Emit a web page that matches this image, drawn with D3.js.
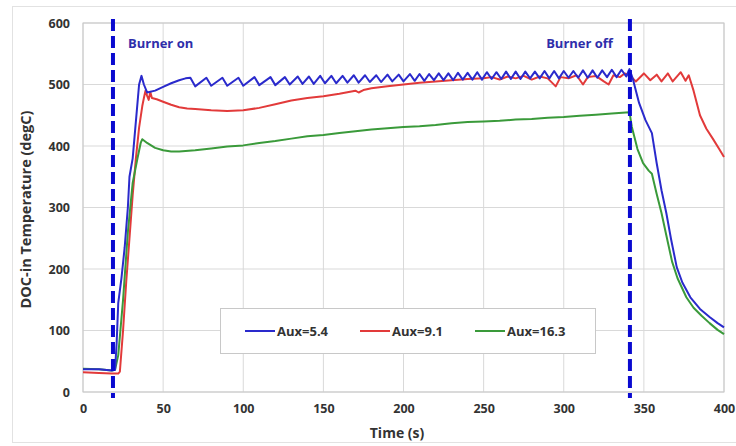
<!DOCTYPE html>
<html><head><meta charset="utf-8">
<script src="https://cdn.jsdelivr.net/npm/d3@7"></script>
<style>body{margin:0;background:#fff}svg{display:block}</style>
</head><body>
<svg id="c" width="736" height="446"></svg>
<script>
const xTicks = [0,50,100,150,200,250,300,350,400];
const yTicks = [0,100,200,300,400,500,600];
const seriesNames = ["Aux=5.4","Aux=9.1","Aux=16.3"];
const seriesColors = ["#2a2acc","#e23a3a","#3a9a3a"];
const burnerTimes = [18.7, 341.3];
const burnerLabels = ["Burner on","Burner off"];

const aux54 = [[0,37],[10,37],[18,35],[20,36],[21,80],[22,145],[24,185],[26,235],[28,300],[29,350],[31,380],[33,440],[35,500],[36.5,514],[38,500],[40,487],[45,490],[50,496],[55,502],[60,507],[64,510],[67,511],[70,497],[77,511],[80,498],[87,511],[90,498],[97,511],[100,498],[107,512],[110,499],[117,512],[120,499],[126,512],[129,500],[134,513],[137,501],[141,513],[144,501],[148,514],[151,502],[155,514],[158,502],[162,514],[165,503],[169,515],[172,503],[176,515],[179,504],[183,515],[186,504],[190,516],[193,505],[197,516],[200,505],[204,517],[207,506],[210,517],[213,506],[216,517],[219,507],[222,518],[225,507],[228,518],[231,507],[234,519],[237,508],[240,519],[243,508],[246,520],[249,508],[252,520],[255,509],[258,520],[261,509],[264,521],[267,509],[270,521],[273,509],[276,521],[279,510],[282,521],[285,510],[288,522],[291,510],[294,522],[297,510],[300,522],[303,511],[306,522],[309,511],[312,523],[315,511],[318,523],[321,511],[324,523],[327,512],[330,524],[333,512],[336,524],[339,513],[341,525],[343,510],[347,470],[351,442],[355,421],[358,372],[361,328],[364,291],[367,248],[370.5,203],[374,178],[379,154],[385,135],[391,122],[396,112],[400,105]];

const aux91 = [[0,32],[10,31],[18,30],[22,30],[23,33],[25,100],[27,180],[29,250],[31,320],[33,380],[35,430],[37,465],[38,478],[39,490],[40,482],[41,475],[42,488],[43,478],[46,476],[50,472],[55,467],[60,463],[65,461],[70,460],[80,458],[90,457],[100,458],[110,462],[120,468],[130,474],[140,478],[150,481],[160,485],[170,490],[172,487],[175,491],[180,494],[190,497],[200,500],[210,503],[220,505],[230,507],[240,509],[250,510],[255,512],[260,508],[265,513],[270,510],[275,514],[280,508],[285,513],[290,510],[295,497],[298,512],[303,510],[308,515],[312,500],[315,512],[320,514],[325,505],[328,500],[331,515],[335,512],[338,518],[341,515],[345,505],[350,518],[354,507],[358,516],[361,505],[365,518],[368,505],[373,520],[376,506],[378,515],[381,490],[385,450],[389,428],[393,412],[397,395],[400,382]];

const aux163 = [[0,38],[10,37],[18,35],[20,36],[22,60],[25,150],[28,260],[31,340],[34,380],[36,405],[37,411],[40,405],[45,397],[50,393],[55,391],[60,391],[70,393],[80,396],[90,399],[100,401],[110,405],[120,408],[130,412],[140,416],[150,418],[160,421],[170,424],[180,427],[190,429],[200,431],[210,432],[220,434],[230,437],[240,439],[250,440],[260,441],[270,443],[280,444],[290,446],[300,447],[310,449],[320,451],[330,453],[341,455],[342.5,431],[346,395],[349.5,372],[353,360],[355,355],[358,322],[361,291],[364,255],[367.6,212],[371,185],[376.5,154],[381,137],[386,124],[391,112],[396,101],[400,94]];

const seriesData = [aux54, aux91, aux163];

const svg = d3.select("#c");
const font = "'Open Sans','Liberation Sans',Arial,sans-serif";
const M = {l:83, r:724, t:23, b:392};
const x = d3.scaleLinear().domain([0,400]).range([M.l,M.r]);
const y = d3.scaleLinear().domain([0,600]).range([M.b,M.t]);

// outer frame
svg.append("rect").attr("x",12.5).attr("y",6.5).attr("width",740).attr("height",436)
  .attr("fill","#fff").attr("stroke","#e2e2e2");

// grid
svg.append("g").selectAll("line").data(xTicks).join("line")
  .attr("x1",d=>x(d)).attr("x2",d=>x(d)).attr("y1",M.t).attr("y2",M.b)
  .attr("stroke","#d9d9d9").attr("stroke-width",1);
svg.append("g").selectAll("line").data(yTicks).join("line")
  .attr("x1",M.l).attr("x2",M.r).attr("y1",d=>y(d)).attr("y2",d=>y(d))
  .attr("stroke","#d9d9d9").attr("stroke-width",1);
svg.append("rect").attr("x",M.l).attr("y",M.t).attr("width",M.r-M.l).attr("height",M.b-M.t)
  .attr("fill","none").attr("stroke","#c8c8c8");

// axes
const xAxis = d3.axisBottom(x).tickValues(xTicks).tickSize(0).tickPadding(12);
const gx = svg.append("g").attr("transform",`translate(0,${M.b})`).call(xAxis);
const yAxis = d3.axisLeft(y).tickValues(yTicks).tickSize(0).tickPadding(13);
const gy = svg.append("g").attr("transform",`translate(${M.l},0)`).call(yAxis);
[gx,gy].forEach(g=>{
  g.select(".domain").remove();
  g.selectAll("text").attr("font-family",font).attr("font-size",12.5).attr("font-weight","bold").attr("fill","#333");
});

// titles
svg.append("text").attr("x",397).attr("y",438).attr("text-anchor","middle")
  .attr("font-family",font).attr("font-size",14).attr("font-weight","bold").attr("fill","#333").text("Time (s)");
svg.append("text").attr("transform",`translate(31,${(M.t+M.b)/2+2}) rotate(-90)`).attr("text-anchor","middle")
  .attr("font-family",font).attr("font-size",14.5).attr("font-weight","bold").attr("fill","#333")
  .text("DOC-in Temperature (degC)");

// lines
const line = d3.line().x(d=>x(d[0])).y(d=>y(d[1]));
svg.append("g").selectAll("path").data([1,2,0].map(i=>({d:seriesData[i],c:seriesColors[i]}))).join("path")
  .attr("d",d=>line(d.d)).attr("fill","none").attr("stroke",d=>d.c).attr("stroke-width",2)
  .attr("stroke-linejoin","round");

// burner lines
svg.append("g").selectAll("line").data(burnerTimes).join("line")
  .attr("x1",d=>x(d)).attr("x2",d=>x(d)).attr("y1",M.t-4).attr("y2",M.b+6)
  .attr("stroke","#0a0ad0").attr("stroke-width",4).attr("stroke-dasharray","12,5");
svg.append("text").attr("x",x(burnerTimes[0])+15).attr("y",48)
  .attr("font-family",font).attr("font-size",13).attr("font-weight","bold").attr("fill","#2e2eaa").text(burnerLabels[0]);
svg.append("text").attr("x",x(burnerTimes[1])-17).attr("y",48).attr("text-anchor","end")
  .attr("font-family",font).attr("font-size",13).attr("font-weight","bold").attr("fill","#2e2eaa").text(burnerLabels[1]);

// legend
const lg = svg.append("g");
lg.append("rect").attr("x",220.5).attr("y",308.5).attr("width",375).attr("height",45)
  .attr("fill","#fff").attr("stroke","#c8c8c8");
const lx = [245,360,475];
seriesNames.forEach((n,i)=>{
  lg.append("line").attr("x1",lx[i]).attr("x2",lx[i]+30).attr("y1",331).attr("y2",331)
    .attr("stroke",seriesColors[i]).attr("stroke-width",2);
  lg.append("text").attr("x",lx[i]+32).attr("y",336).attr("font-family",font).attr("font-size",13)
    .attr("font-weight","bold").attr("fill","#333").text(n);
});
</script>
</body></html>
